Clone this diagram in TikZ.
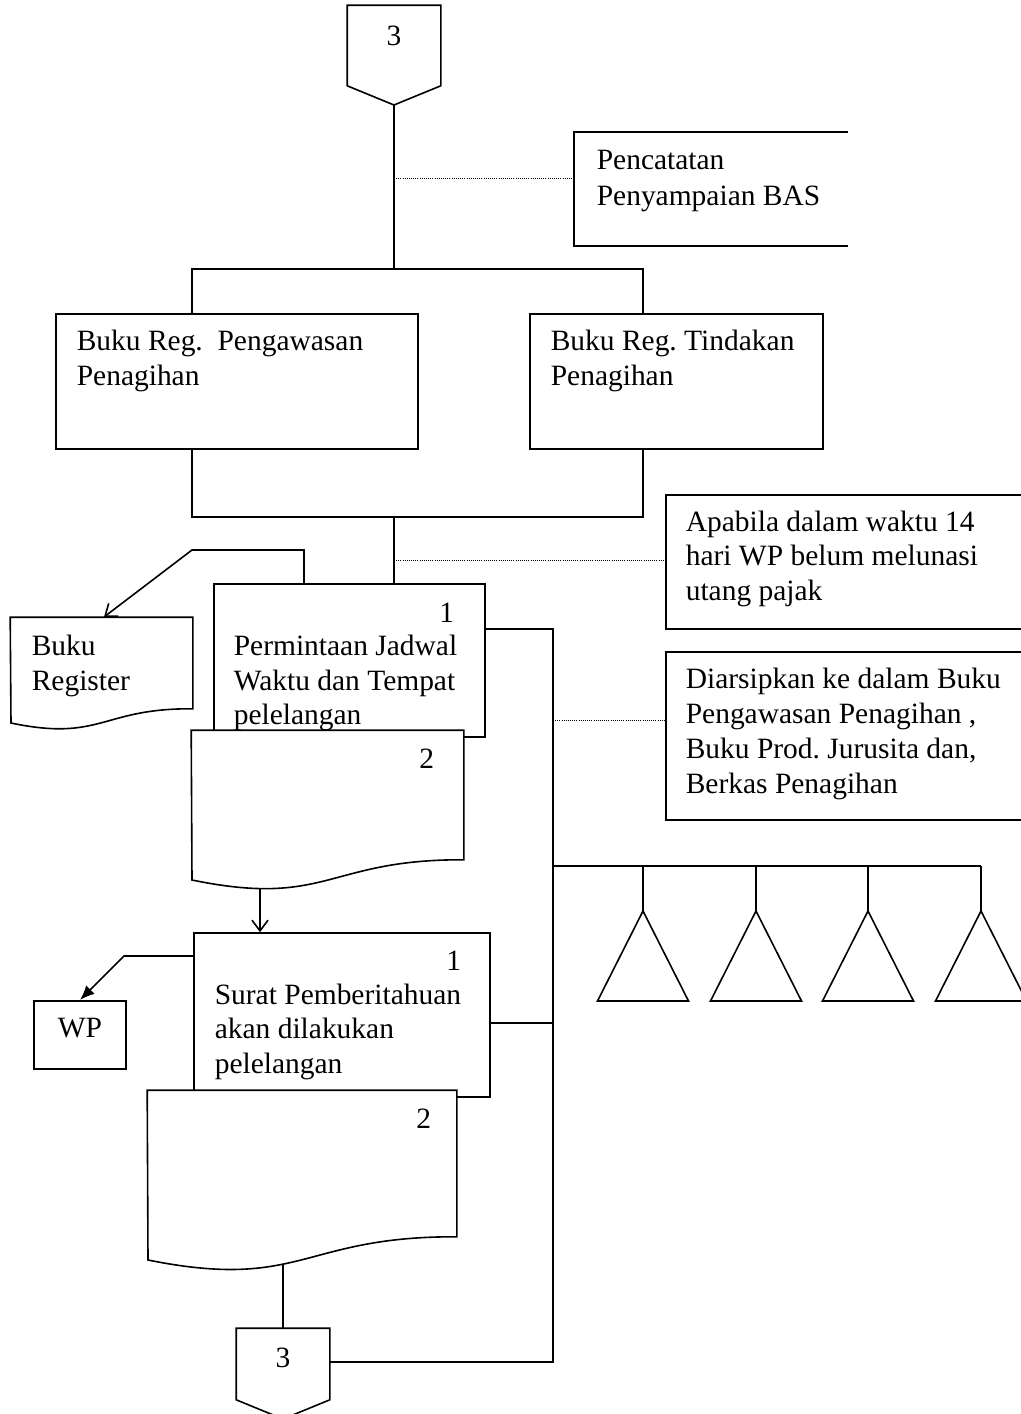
\documentclass[tikz,border=0pt]{standalone}
\usepackage{fontspec}
\setmainfont{Liberation Serif}
\usetikzlibrary{arrows.meta,fit}
\frenchspacing

\begin{document}
\begin{tikzpicture}[x=0.75pt,y=-0.75pt,
  line width=1.2pt, line join=miter,
  box/.style={draw, rectangle, inner sep=0pt, fill=white},
  frame/.style={rectangle, inner sep=0pt},
  txt/.style={inner sep=0pt, font=\fontsize{22.1}{26.5}\selectfont},
  lbl/.style={txt, anchor=base west},
  num/.style={txt, anchor=base east},
  mid/.style={txt, anchor=base},
  note/.style={line width=0.7pt, dash pattern=on 0.7pt off 0.9pt},
  openhead/.style={-{Straight Barb[length=8pt,width=12pt]}},
  solidhead/.style={-{Latex[length=11pt,width=9pt]}},
]
\useasboundingbox (0,0) rectangle (1021,1414);
\clip (0,0) rectangle (1021,1414);

% ---- top off-page connector ----
\node[frame, fit={(348,6) (440,85)}] (c1) {};
\coordinate (c1tip) at (394,105);
\draw (c1.south west) -- (c1.north west) -- (c1.north east) -- (c1.south east) -- (c1tip) -- cycle;
\node[mid] (c1t) at (394,45) {3};

% ---- note: Pencatatan Penyampaian BAS (open on the right) ----
\node[frame, fit={(575,133) (847,245)}] (pb) {};
\draw (pb.north east) -- (pb.north west) -- (pb.south west) -- (pb.south east);
\node[lbl] (pb1) at (596,169) {Pencatatan};
\node[lbl] (pb2) at (596,205) {Penyampaian BAS};

% ---- register books ----
\node[box, fit={(56,314) (418,449)}] (bpp) {};
\node[lbl] (bpp1) at (76,350) {Buku Reg.\ \ Pengawasan};
\node[lbl] (bpp2) at (76,385) {Penagihan};
\node[box, fit={(530,314) (823,449)}] (bpt) {};
\node[lbl] (bpt1) at (550,350) {Buku Reg. Tindakan};
\node[lbl] (bpt2) at (550,385) {Penagihan};

% ---- bus lines around the register books ----
\coordinate (busC) at (394,269);
\coordinate (busL) at (192,269);
\coordinate (busR) at (643,269);
\coordinate (joinL) at (192,517);
\coordinate (joinR) at (643,517);
\coordinate (joinC) at (394,517);
\draw (c1tip) -- (busC);
\draw (bpp.north -| busL) -- (busL) -- (busR) -- (bpt.north -| busR);
\draw (bpp.south -| joinL) -- (joinL) -- (joinR) -- (bpt.south -| joinR);

\coordinate (n1) at (394,178);
\draw[note] (n1) -- (pb.west |- n1);

% ---- notes on the right ----
\node[box, fit={(666,495) (1030,629)}] (ap) {};
\node[lbl] (ap1) at (685,531) {Apabila dalam waktu 14};
\node[lbl] (ap2) at (685,565) {hari WP belum melunasi};
\node[lbl] (ap3) at (685,600) {utang pajak};
\node[box, fit={(666,652) (1030,820)}] (ar) {};
\node[lbl] (ar1) at (685,688) {Diarsipkan ke dalam Buku};
\node[lbl] (ar2) at (685,723) {Pengawasan Penagihan ,};
\node[lbl] (ar3) at (685,758) {Buku Prod. Jurusita dan,};
\node[lbl] (ar4) at (685,793) {Berkas Penagihan};

% ---- document 1: Permintaan Jadwal ----
\node[box, fit={(214,584) (485,737)}] (d1) {};
\node[num] (d1n) at (455,622) {1};
\node[lbl] (d1a) at (233,655) {Permintaan Jadwal};
\node[lbl] (d1b) at (233,690) {Waktu dan Tempat};
\node[lbl] (d1c) at (233,724) {pelelangan};
\draw (joinC) -- (d1.north -| joinC);
\coordinate (n2) at (394,560);
\draw[note] (n2) -- (ap.west |- n2);

% ---- document 2 (copy) ----
\node[frame, fit={(192,731) (463,859)}] (d2) {};
\draw[fill=white] (d2.north west) -- (d2.north east) -- (d2.south east)
  .. controls (327.5,859) and (327.5,908) .. (192,880) -- cycle;
\node[num] (d2n) at (435,768) {2};

% ---- Buku Register ----
\node[frame, fit={(11,618) (192,708)}] (br) {};
\draw[fill=white] (br.north west) -- (br.north east) -- (br.south east)
  .. controls (101.5,708) and (101.5,742) .. (11,723) -- cycle;
\node[lbl] (br1) at (31,655) {Buku};
\node[lbl] (br2) at (31,690) {Register};
\coordinate (r1) at (304,550);
\coordinate (r2) at (192,550);
\coordinate (rtip) at (104,617);
\draw[openhead] (d1.north -| r1) -- (r1) -- (r2) -- (rtip);

% ---- document 3: Surat Pemberitahuan ----
\node[box, fit={(194,933) (490,1097)}] (d3) {};
\node[num] (d3n) at (462,970) {1};
\node[lbl] (d3a) at (214,1004) {Surat Pemberitahuan};
\node[lbl] (d3b) at (214,1038) {akan dilakukan};
\node[lbl] (d3c) at (214,1073) {pelelangan};
\coordinate (a1) at (260,888);
\draw[openhead] (a1) -- (d3.north -| a1);

% ---- document 4 (copy) ----
\node[frame, fit={(148,1091) (456,1236)}] (d4) {};
\draw[fill=white] (d4.north west) -- (d4.north east) -- (d4.south east)
  .. controls (302,1236) and (302,1291) .. (148,1260) -- cycle;
\node[num] (d4n) at (432,1128) {2};

% ---- WP ----
\node[box, fit={(34,1001) (126,1069)}] (wp) {};
\node[mid] (wpt) at (80,1037) {WP};
\coordinate (w1) at (124,956);
\coordinate (wtip) at (80,1000);
\draw[solidhead] (d3.west |- w1) -- (w1) -- (wtip);

% ---- bottom off-page connector ----
\node[frame, fit={(237,1329) (329,1399)}] (c2) {};
\coordinate (c2tip) at (283,1419);
\draw (c2.south west) -- (c2.north west) -- (c2.north east) -- (c2.south east) -- (c2tip) -- cycle;
\node[mid] (c2t) at (283,1367) {3};
\coordinate (a2) at (283,1264);
\draw (a2) -- (c2.north);

% ---- vertical distribution line ----
\coordinate (vt) at (553,629);
\coordinate (vb) at (553,1362);
\coordinate (v3) at (553,1023);
\coordinate (v4) at (553,866);
\coordinate (n3) at (553,720);
\draw (d1.east |- vt) -- (vt) -- (vb) -- (c2.east |- vb);
\draw (d3.east |- v3) -- (v3);
\draw[note] (n3) -- (ar.west |- n3);

% ---- archive files ----
\foreach \x [count=\i] in {643,756,868,981} {
  \coordinate (drop\i) at (\x,866);
  \coordinate (apex\i) at (\x,911);
  \draw (drop\i) -- (apex\i);
  \draw (apex\i) -- (\x+45.5,1001) -- (\x-45.5,1001) -- cycle;
}
\draw (v4) -- (drop4);
\end{tikzpicture}
\end{document}
